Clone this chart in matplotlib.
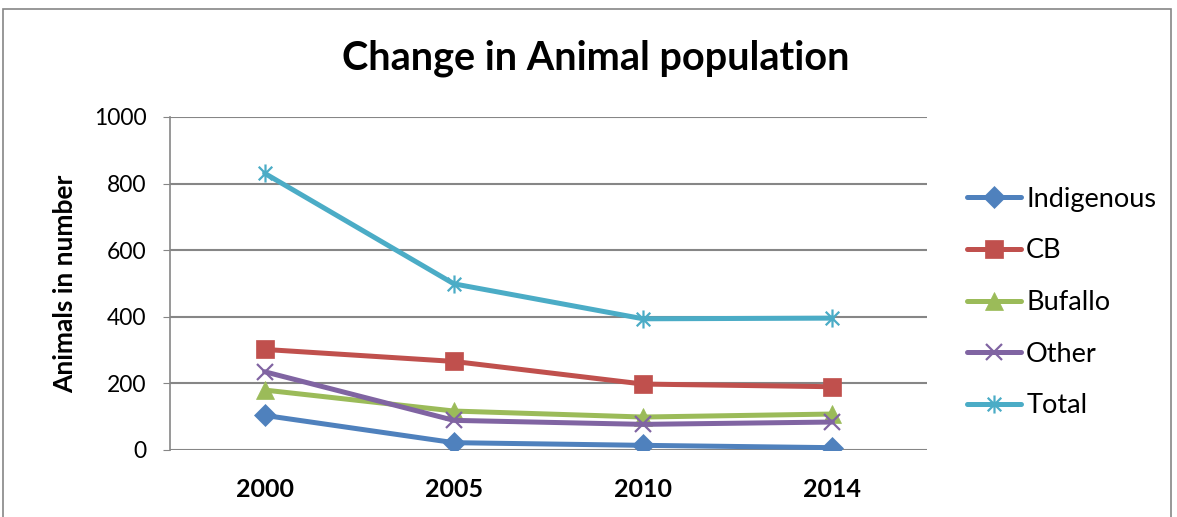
import matplotlib
matplotlib.use("Agg")
import matplotlib.pyplot as plt
from matplotlib.path import Path
from matplotlib.patches import Rectangle

plt.rcParams["font.family"] = ["Lato", "DejaVu Sans"]

years = ["2000", "2005", "2010", "2014"]
indigenous = [104, 22, 14, 7]
cb = [302, 266, 198, 190]
bufallo = [180, 117, 99, 108]
other = [235, 89, 77, 84]
total = [831, 499, 394, 396]

# asterisk marker: vertical bar plus an X
star = Path([(0, -1), (0, 1), (-0.75, -0.75), (0.75, 0.75), (-0.75, 0.75), (0.75, -0.75)],
            [Path.MOVETO, Path.LINETO, Path.MOVETO, Path.LINETO, Path.MOVETO, Path.LINETO])

series = [
    ("Indigenous", indigenous, "#4F81BD", "D", 11),
    ("CB", cb, "#C0504D", "s", 13),
    ("Bufallo", bufallo, "#9BBB59", "^", 13),
    ("Other", other, "#8064A2", "x", 12),
    ("Total", total, "#4BACC6", star, 13),
]

fig = plt.figure(figsize=(11.77, 5.17), dpi=100)
ax = fig.add_axes([170 / 1177, 1 - 450 / 517, 757 / 1177, 333 / 517])

x = range(len(years))
for name, vals, col, mk, ms in series:
    thin = mk in ("x",) or isinstance(mk, Path)
    ax.plot(x, vals, color=col, lw=3.6, marker=mk, ms=ms, label=name,
            markerfacecolor=col, markeredgecolor=col,
            markeredgewidth=1.6 if thin else 0.5, solid_capstyle="round")

ax.set_xlim(-0.5, 3.5)
ax.set_ylim(0, 1000)
ax.set_yticks(range(0, 1001, 200))
ax.set_xticks(list(x))
ax.set_xticklabels(years, fontweight="bold", fontsize=18)
ax.tick_params(axis="y", labelsize=16.5, length=5, color="#868686", pad=12)
ax.tick_params(axis="x", length=0, pad=20)
ax.grid(axis="y", color="#868686", lw=1.5)
ax.set_axisbelow(True)
for s in ["top", "right", "bottom"]:
    ax.spines[s].set_visible(False)
ax.spines["left"].set_color("#868686")
ax.spines["left"].set_linewidth(1.2)
ax.set_ylabel("Animals in number", fontweight="bold", fontsize=19, labelpad=12)

fig.suptitle("Change in Animal population", fontweight="bold", fontsize=28.5,
             x=596 / 1177, y=1 - 58 / 517, va="center")

ax.legend(loc="center left", bbox_to_anchor=(1.053, 0.443), frameon=False,
          fontsize=19.5, handlelength=2.0, handletextpad=0.18, labelspacing=0.98,
          borderaxespad=0, borderpad=0)

fig.patches.append(Rectangle((3 / 1177, -0.1), 1168 / 1177, 1.1 - 9 / 517,
                             transform=fig.transFigure, fill=False,
                             edgecolor="#868686", lw=1.2))

fig.savefig("out.png", dpi=100)
